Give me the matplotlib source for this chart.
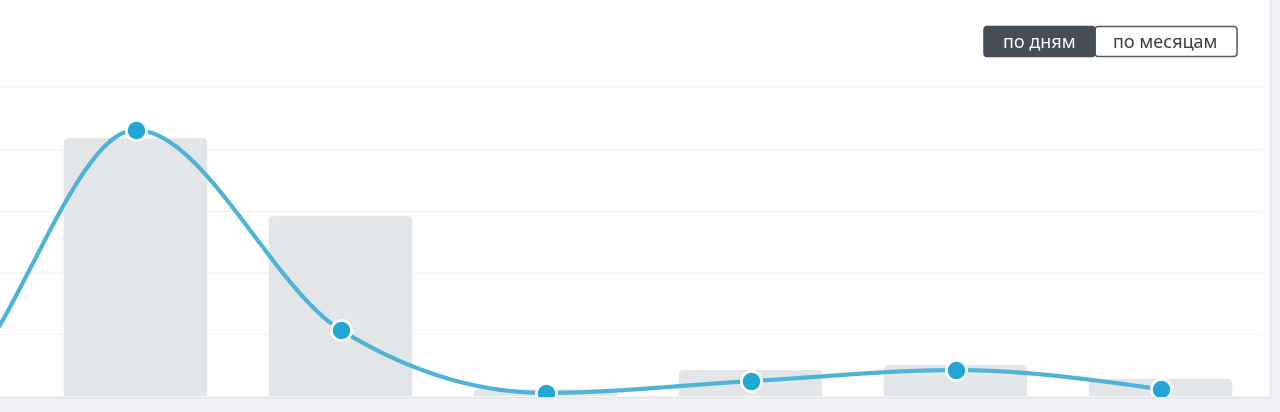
import numpy as np
import matplotlib
matplotlib.use("Agg")
import matplotlib.pyplot as plt
from matplotlib.patches import FancyBboxPatch, Rectangle

# data: positions -2 and -1 are scrolled off the left edge of the chart
positions = [-2, -1, 0, 1, 2, 3, 4, 5]
bar_values = [0, 0, 4.17, 2.91, 0.11, 0.42, 0.50, 0.28]
line_values = [0, 0, 4.30, 1.07, 0.05, 0.24, 0.42, 0.11]
button_labels = ["по дням", "по месяцам"]

W, H = 1280, 412
fig = plt.figure(figsize=(W / 100, H / 100), dpi=100)
fig.patch.set_facecolor("#eef0f3")

# background layer in pixel coords (panel + toggle buttons)
bg = fig.add_axes([0, 0, 1, 1], zorder=0)
bg.set_xlim(0, W)
bg.set_ylim(H, 0)
bg.axis("off")
bg.add_patch(Rectangle((-2, -2), 1272, 398.5, facecolor="white",
                       edgecolor="#e2e5e9", lw=1))

# toggle buttons
bg.add_patch(FancyBboxPatch((1095, 26.5), 142, 30, boxstyle="round,pad=0,rounding_size=3",
                            facecolor="white", edgecolor="#555a62", lw=1.1))
bg.add_patch(FancyBboxPatch((984, 26.5), 111, 30, boxstyle="round,pad=0,rounding_size=3",
                            facecolor="#474d57", edgecolor="#474d57", lw=1.1))
bg.add_patch(Rectangle((1088, 27), 7, 29, facecolor="#474d57", edgecolor="none"))
bg.text(1039.5, 42, button_labels[0], color="white", fontsize=13,
        ha="center", va="center", family="Noto Sans", weight="medium")
bg.text(1165, 42, button_labels[1], color="#3b3f45", fontsize=13,
        ha="center", va="center", family="Noto Sans")

# chart axes
ax = fig.add_axes([0, 16 / H, 1262 / W, 371 / H], zorder=1)
ax.patch.set_alpha(0)
ax.set_xlim(-0.661, 5.495)
ax.set_ylim(0, 6)
for s in ax.spines.values():
    s.set_visible(False)
ax.set_xticks([])
ax.set_yticks([])
for g in range(1, 6):
    ax.axhline(g, color="#f2f3f5", lw=1, zorder=0)

# bars with rounded tops
bars = ax.bar(positions, np.array(bar_values) + 0.2, bottom=-0.2, width=0.7)
for b in bars:
    x, y = b.get_x(), b.get_y()
    w, h = b.get_width(), b.get_height()
    b.remove()
    ax.add_patch(FancyBboxPatch((x, y), w, h,
                                boxstyle="round,pad=0,rounding_size=0.025",
                                mutation_aspect=205 / 61.8,
                                facecolor="#e3e6e9", edgecolor="none", zorder=1))

# monotone cubic curve (d3 monotoneX style)
xs = np.array(positions, dtype=float)
ys = np.array(line_values, dtype=float)
n = len(xs)
sl = np.diff(ys) / np.diff(xs)
tan = np.zeros(n)
for i in range(1, n - 1):
    s0, s1 = sl[i - 1], sl[i]
    p = (s0 + s1) / 2
    tan[i] = (np.sign(s0) + np.sign(s1)) * min(abs(s0), abs(s1), 0.5 * abs(p))
tan[0] = (3 * sl[0] - tan[1]) / 2
tan[-1] = (3 * sl[-1] - tan[-2]) / 2
cx, cy = [], []
for i in range(n - 1):
    hx = xs[i + 1] - xs[i]
    t = np.linspace(0, 1, 60)
    h00 = 2 * t**3 - 3 * t**2 + 1
    h10 = t**3 - 2 * t**2 + t
    h01 = -2 * t**3 + 3 * t**2
    h11 = t**3 - t**2
    cx.extend(xs[i] + t * hx)
    cy.extend(h00 * ys[i] + h10 * hx * tan[i] + h01 * ys[i + 1] + h11 * hx * tan[i + 1])
ax.plot(cx, cy, color="#4fb3d5", lw=3, zorder=2, solid_capstyle="round")
ax.plot(xs, ys, "o", color="#22a6d6", markersize=14.5, markeredgecolor="white",
        markeredgewidth=2, zorder=3)

fig.savefig("out.png", dpi=100, facecolor=fig.get_facecolor())
